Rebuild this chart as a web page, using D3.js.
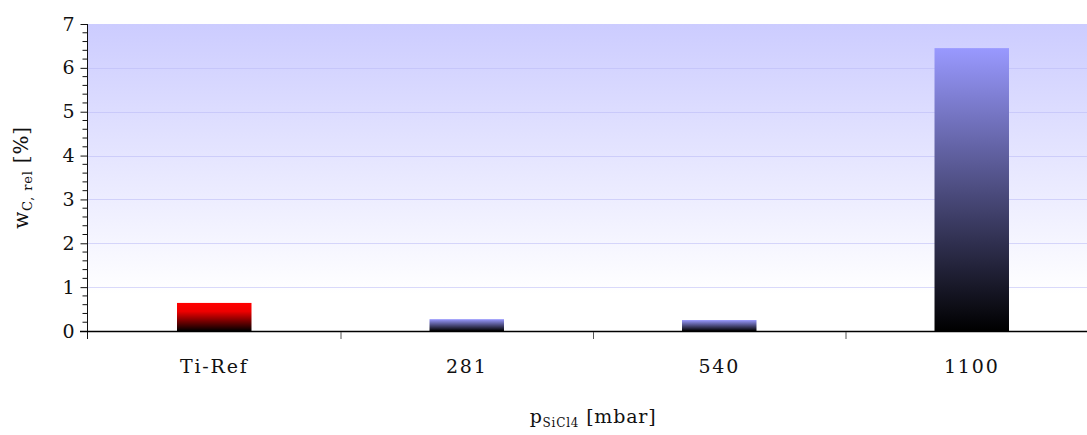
<!DOCTYPE html>
<html><head><meta charset="utf-8">
<script src="https://cdn.jsdelivr.net/npm/d3@7"></script>
<style>body{margin:0;background:#fff}svg{display:block}text{font-family:"DejaVu Serif",serif;fill:#111}</style>
</head><body>
<svg id="c" width="1087" height="435"></svg>
<script>
const categories = ["Ti-Ref", "281", "540", "1100"];
const values = [0.64, 0.27, 0.25, 6.45];
const barKinds = ["ref", "sample", "sample", "sample"];
const yTicks = [0, 1, 2, 3, 4, 5, 6, 7];

const W = 1087, H = 435;
const m = {left: 88, top: 24, right: 1098, bottom: 331};
const svg = d3.select("#c");
const defs = svg.append("defs");

const bg = defs.append("linearGradient").attr("id","bg").attr("x1",0).attr("y1",0).attr("x2",0).attr("y2",1);
bg.append("stop").attr("offset","0%").attr("stop-color","#ccccff");
bg.append("stop").attr("offset","88%").attr("stop-color","#ffffff");
bg.append("stop").attr("offset","100%").attr("stop-color","#ffffff");

const gBlue = defs.append("linearGradient").attr("id","gsample").attr("x1",0).attr("y1",0).attr("x2",0).attr("y2",1);
gBlue.append("stop").attr("offset","0%").attr("stop-color","#9999ff");
gBlue.append("stop").attr("offset","100%").attr("stop-color","#000000");
const gRed = defs.append("linearGradient").attr("id","gref").attr("x1",0).attr("y1",0).attr("x2",0).attr("y2",1);
gRed.append("stop").attr("offset","0%").attr("stop-color","#ff0000");
gRed.append("stop").attr("offset","30%").attr("stop-color","#ee0000");
gRed.append("stop").attr("offset","100%").attr("stop-color","#000000");

const x = d3.scaleBand().domain(categories).range([m.left, m.right]).paddingInner(0).paddingOuter(0);
const y = d3.scaleLinear().domain([0, 7]).range([m.bottom, m.top]);

svg.append("rect").attr("x", m.left).attr("y", m.top).attr("width", W - m.left).attr("height", m.bottom - m.top).attr("fill","url(#bg)");

// grid
svg.append("g").selectAll("line").data(yTicks.filter(d=>d>0 && d<7)).join("line")
  .attr("x1", m.left).attr("x2", W).attr("y1", d=>Math.round(y(d))+0.5).attr("y2", d=>Math.round(y(d))+0.5)
  .attr("stroke","rgb(185,185,245)").attr("stroke-opacity",0.55).attr("stroke-width",1);

// bars
const bw = x.bandwidth()*0.295;
svg.append("g").selectAll("rect").data(categories).join("rect")
  .attr("x", d=>x(d)+x.bandwidth()/2-bw/2)
  .attr("width", bw)
  .attr("y", (d,i)=>y(values[i]))
  .attr("height", (d,i)=>y(0)-y(values[i]))
  .attr("fill", (d,i)=>"url(#g"+barKinds[i]+")");

// y axis
const ya = svg.append("g").attr("transform", `translate(${m.left-0.5},0)`)
  .call(d3.axisLeft(y).tickValues(yTicks).tickSize(7).tickPadding(6).tickFormat(d3.format("d")));
ya.select(".domain").remove();
ya.selectAll("text").style("font-size","19px").attr("fill","#111");
ya.selectAll("line").attr("stroke","#111");
const minor = d3.range(0, 7.001, 0.2).filter(v=>Math.abs(v-Math.round(v))>1e-6);
svg.append("g").selectAll("line").data(minor).join("line")
  .attr("x1", m.left-5.5).attr("x2", m.left-0.5)
  .attr("y1", d=>y(d)).attr("y2", d=>y(d)).attr("stroke","#111");
svg.append("line").attr("x1", m.left-0.5).attr("x2", m.left-0.5).attr("y1", m.top).attr("y2", m.bottom+8).attr("stroke","#111");

// x axis
svg.append("line").attr("x1", m.left-8).attr("x2", W).attr("y1", y(0)+0.5).attr("y2", y(0)+0.5).attr("stroke","#000").attr("stroke-width",1.5);
svg.append("g").selectAll("line").data(categories.slice(1)).join("line")
  .attr("x1", d=>x(d)+0.5).attr("x2", d=>x(d)+0.5).attr("y1", y(0)+1).attr("y2", y(0)+8).attr("stroke","#555");
svg.append("g").selectAll("text").data(categories).join("text")
  .attr("x", d=>x(d)+x.bandwidth()/2).attr("y", 373).attr("text-anchor","middle")
  .style("font-size","19px").style("letter-spacing","1.8px").text(d=>d);

// axis titles
const xt = svg.append("text").attr("x", (m.left+m.right)/2).attr("y", 423).attr("text-anchor","middle").style("font-size","19px").style("letter-spacing","0.8px");
xt.append("tspan").text("p");
xt.append("tspan").attr("dy", 4).style("font-size","12px").text("SiCl4");
xt.append("tspan").attr("dy", -4).text(" [mbar]");

const yt = svg.append("text").attr("transform", `translate(28,${(m.top+m.bottom)/2}) rotate(-90)`).attr("text-anchor","middle").style("font-size","20px").style("letter-spacing","0.8px");
yt.append("tspan").text("w");
yt.append("tspan").attr("dy", 4).style("font-size","13px").text("C, rel");
yt.append("tspan").attr("dy", -4).text(" [%]");
</script>
</body></html>
